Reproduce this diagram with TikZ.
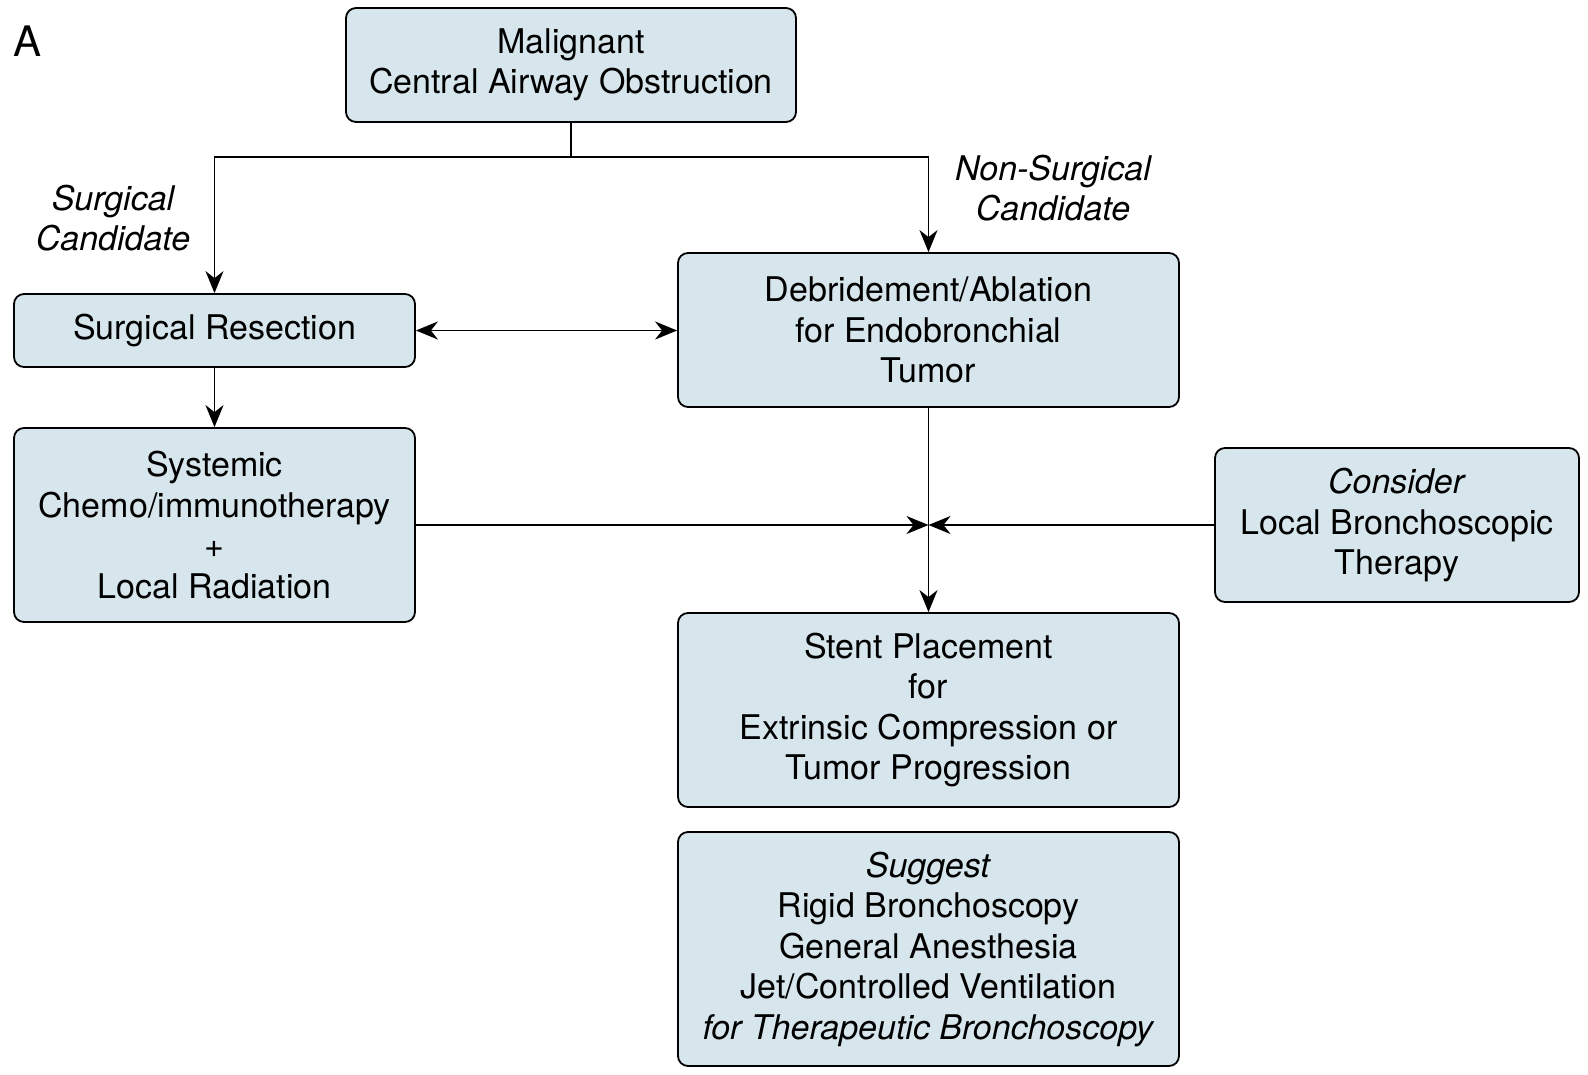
\documentclass[tikz,border=0pt]{standalone}
\usepackage{fontspec}
\setmainfont{TeX Gyre Heros}
\usetikzlibrary{arrows.meta}
\definecolor{boxblue}{RGB}{214,230,236}

\begin{document}
\begin{tikzpicture}[x=1pt,y=-1pt,
    box/.style={draw=black, fill=boxblue, line width=1.8pt, rounded corners=10pt,
        align=center, inner sep=0pt, font=\fontsize{34}{40.5}\selectfont},
    lbl/.style={align=center, inner sep=0pt, font=\fontsize{34}{40.5}\selectfont\itshape},
    conn/.style={line width=1.8pt},
    arr/.style={conn, -{Stealth[length=22pt,width=18pt,inset=7pt]}},
    darr/.style={conn, {Stealth[length=22pt,width=18pt,inset=7pt]}-{Stealth[length=22pt,width=18pt,inset=7pt]}}]
    \useasboundingbox (0,0) rectangle (1588,1074);
    % boxes
    \node[box, minimum width=450pt, minimum height=114pt] (mcao) at (571,65) {Malignant\\Central Airway Obstruction};
    \node[box, minimum width=401pt, minimum height=73pt] (resect) at (214.5,330.5) {Surgical Resection};
    \node[box, minimum width=501pt, minimum height=154pt] (debr) at (928.5,330) {Debridement/Ablation\\for Endobronchial\\Tumor};
    \node[box, minimum width=401pt, minimum height=194pt] (chemo) at (214.5,525) {Systemic\\Chemo/immunotherapy\\+\\Local Radiation};
    \node[box, minimum width=364pt, minimum height=154pt] (local) at (1397,525) {\textit{Consider}\\Local Bronchoscopic\\Therapy};
    \node[box, minimum width=501pt, minimum height=194pt] (stent) at (928.5,710) {Stent Placement\\for\\Extrinsic Compression or\\Tumor Progression};
    \node[box, minimum width=501pt, minimum height=234pt] (rigid) at (928.5,949) {\textit{Suggest}\\Rigid Bronchoscopy\\General Anesthesia\\Jet/Controlled Ventilation\\\textit{for Therapeutic Bronchoscopy}};
    % labels
    \node[inner sep=0pt, font=\fontsize{42}{44}\selectfont] (panel) at (28,41) {A};
    \node[lbl] (surglbl) at (113,218) {Surgical\\Candidate};
    \node[lbl] (nonsurglbl) at (1053,188) {Non-Surgical\\Candidate};
    % connectors
    \coordinate (split) at (mcao.south |- 0,157);
    \coordinate (junc) at (debr.south |- chemo.east);
    \draw[conn] (mcao.south) -- (split);
    \draw[arr] (split) -| (resect.north);
    \draw[arr] (split) -| (debr.north);
    \draw[darr] (resect.east) -- (resect.east -| debr.west);
    \draw[arr] (resect.south) -- (chemo.north);
    \draw[arr] (debr.south) -- (stent.north);
    \draw[arr] (chemo.east) -- (junc);
    \draw[arr] (local.west) -- (junc);
\end{tikzpicture}
\end{document}
